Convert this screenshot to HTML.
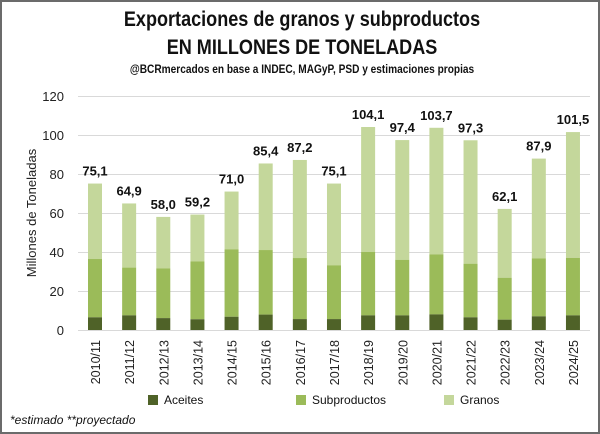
<!DOCTYPE html>
<html><head><meta charset="utf-8"><style>
body{margin:0;background:#fff}
#c{position:relative;width:596px;height:430px;border:2px solid #6b6b6b;overflow:hidden;font-family:"Liberation Sans",sans-serif}
.t{position:absolute;left:0;width:600px;text-align:center;font-weight:bold;color:#111}
</style></head><body><div id="c">
<div class="t" style="top:6px;font-size:21px;transform:scaleX(0.86)">Exportaciones de granos y subproductos</div>
<div class="t" style="top:34px;font-size:21px;transform:scaleX(0.86)">EN MILLONES DE TONELADAS</div>
<div class="t" style="top:62px;font-size:11.5px;transform:scaleX(0.88)">@BCRmercados en base a INDEC, MAGyP, PSD y estimaciones propias</div>
<svg width="600" height="434" style="position:absolute;left:-2px;top:-2px" font-family="Liberation Sans,sans-serif">
<g stroke="#d9d9d9" stroke-width="1">
<line x1="78" x2="590" y1="96.5" y2="96.5"/><line x1="78" x2="590" y1="135.5" y2="135.5"/><line x1="78" x2="590" y1="174.5" y2="174.5"/><line x1="78" x2="590" y1="213.5" y2="213.5"/><line x1="78" x2="590" y1="252.5" y2="252.5"/><line x1="78" x2="590" y1="291.5" y2="291.5"/><line x1="78" x2="590" y1="330.5" y2="330.5"/>
</g>
<g font-size="13" fill="#222" text-anchor="end">
<text x="64" y="101">120</text><text x="64" y="140">100</text><text x="64" y="179">80</text><text x="64" y="218">60</text><text x="64" y="257">40</text><text x="64" y="296">20</text><text x="64" y="335">0</text>
</g>
<text transform="translate(36,213) rotate(-90)" font-size="13" text-anchor="middle" fill="#222">Millones de Toneladas</text>
<g id="bars"></g>
<g font-size="10.5" fill="#111">
<rect x="148" y="395" width="10" height="10" fill="#4f6228"/><text x="164" y="404" font-size="12">Aceites</text>
<rect x="296" y="395" width="10" height="10" fill="#9bbb59"/><text x="312" y="404" font-size="12">Subproductos</text>
<rect x="444" y="395" width="10" height="10" fill="#c4d79b"/><text x="460" y="404" font-size="12">Granos</text>
</g>
<text x="10" y="424" font-size="12" font-style="italic" fill="#111">*estimado **proyectado</text>
</svg>
<script>
var d=[["2010/11",6.5,36.4,75.1],["2011/12",7.5,32,64.9],["2012/13",6.1,31.6,58.0],["2013/14",5.5,35.2,59.2],["2014/15",6.8,41.4,71.0],["2015/16",7.9,41,85.4],["2016/17",5.6,36.9,87.2],["2017/18",5.6,33.2,75.1],["2018/19",7.5,40,104.1],["2019/20",7.5,36,97.4],["2020/21",8,38.8,103.7],["2021/22",6.5,34,97.3],["2022/23",5.3,26.8,62.1],["2023/24",7,36.7,87.9],["2024/25",7.5,37,101.5]];
var s="",k=1.95,b=330;
d.forEach(function(r,i){var cx=95+i*34.14,x=cx-7,w=14;
s+='<rect x="'+x+'" y="'+(b-r[3]*k)+'" width="'+w+'" height="'+((r[3]-r[2])*k)+'" fill="#c4d79b"/>';
s+='<rect x="'+x+'" y="'+(b-r[2]*k)+'" width="'+w+'" height="'+((r[2]-r[1])*k)+'" fill="#9bbb59"/>';
s+='<rect x="'+x+'" y="'+(b-r[1]*k)+'" width="'+w+'" height="'+(r[1]*k)+'" fill="#4f6228"/>';
s+='<text x="'+cx+'" y="'+(b-r[3]*k-8)+'" font-size="13" font-weight="bold" text-anchor="middle" fill="#111">'+r[3].toFixed(1).replace(".",",")+'</text>';
s+='<text transform="translate('+(cx+5)+',340) rotate(-90)" font-size="12.5" text-anchor="end" fill="#222">'+r[0]+'</text>';});
document.getElementById("bars").innerHTML=s;
</script>
</div></body></html>
